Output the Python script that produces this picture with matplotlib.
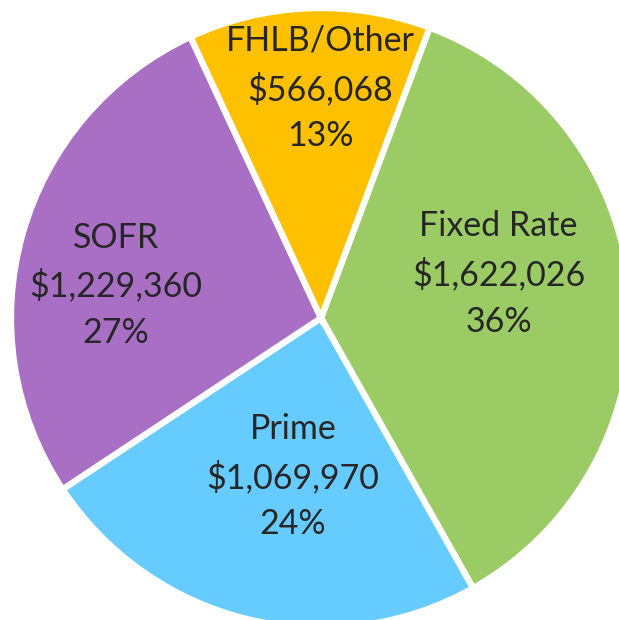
import matplotlib
matplotlib.use("Agg")
import matplotlib.pyplot as plt
import numpy as np

categories = ["Fixed Rate", "Prime", "SOFR", "FHLB/Other"]
values = [1622026, 1069970, 1229360, 566068]
percent_labels = ["36%", "24%", "27%", "13%"]
colors = ["#9BCB64", "#66CCFF", "#A86FC4", "#FFC000"]

# label placement (style): radial distance and angular shift from wedge middle
label_dist = [0.59, 0.52, 0.67, 0.74]
label_shift = [9.5, 3.5, 6.7, -2.0]

W, H = 619, 620
fig = plt.figure(figsize=(W / 100, H / 100), dpi=100)
ax = fig.add_axes([0, 0, 1, 1])

wedges, _ = ax.pie(values, colors=colors, startangle=69.5, counterclock=False,
                   radius=1.0, wedgeprops=dict(edgecolor="white", linewidth=4.5))

cx, cy, R = 321, 302, 310  # pixels from left / bottom
ax.set_xlim(-cx / R, (W - cx) / R)
ax.set_ylim(-cy / R, (H - cy) / R)
ax.set_aspect("equal", adjustable="box")
ax.axis("off")

for w, cat, v, p, d, s in zip(wedges, categories, values, percent_labels, label_dist, label_shift):
    mid = np.deg2rad((w.theta1 + w.theta2) / 2 + s)
    x, y = d * np.cos(mid), d * np.sin(mid)
    ax.text(x, y, f"{cat}\n${v:,}\n{p}", ha="center", va="center",
            fontsize=24.5, family=["Lato", "DejaVu Sans"], color="#262626",
            linespacing=1.55)

fig.savefig("out.png", dpi=100)
